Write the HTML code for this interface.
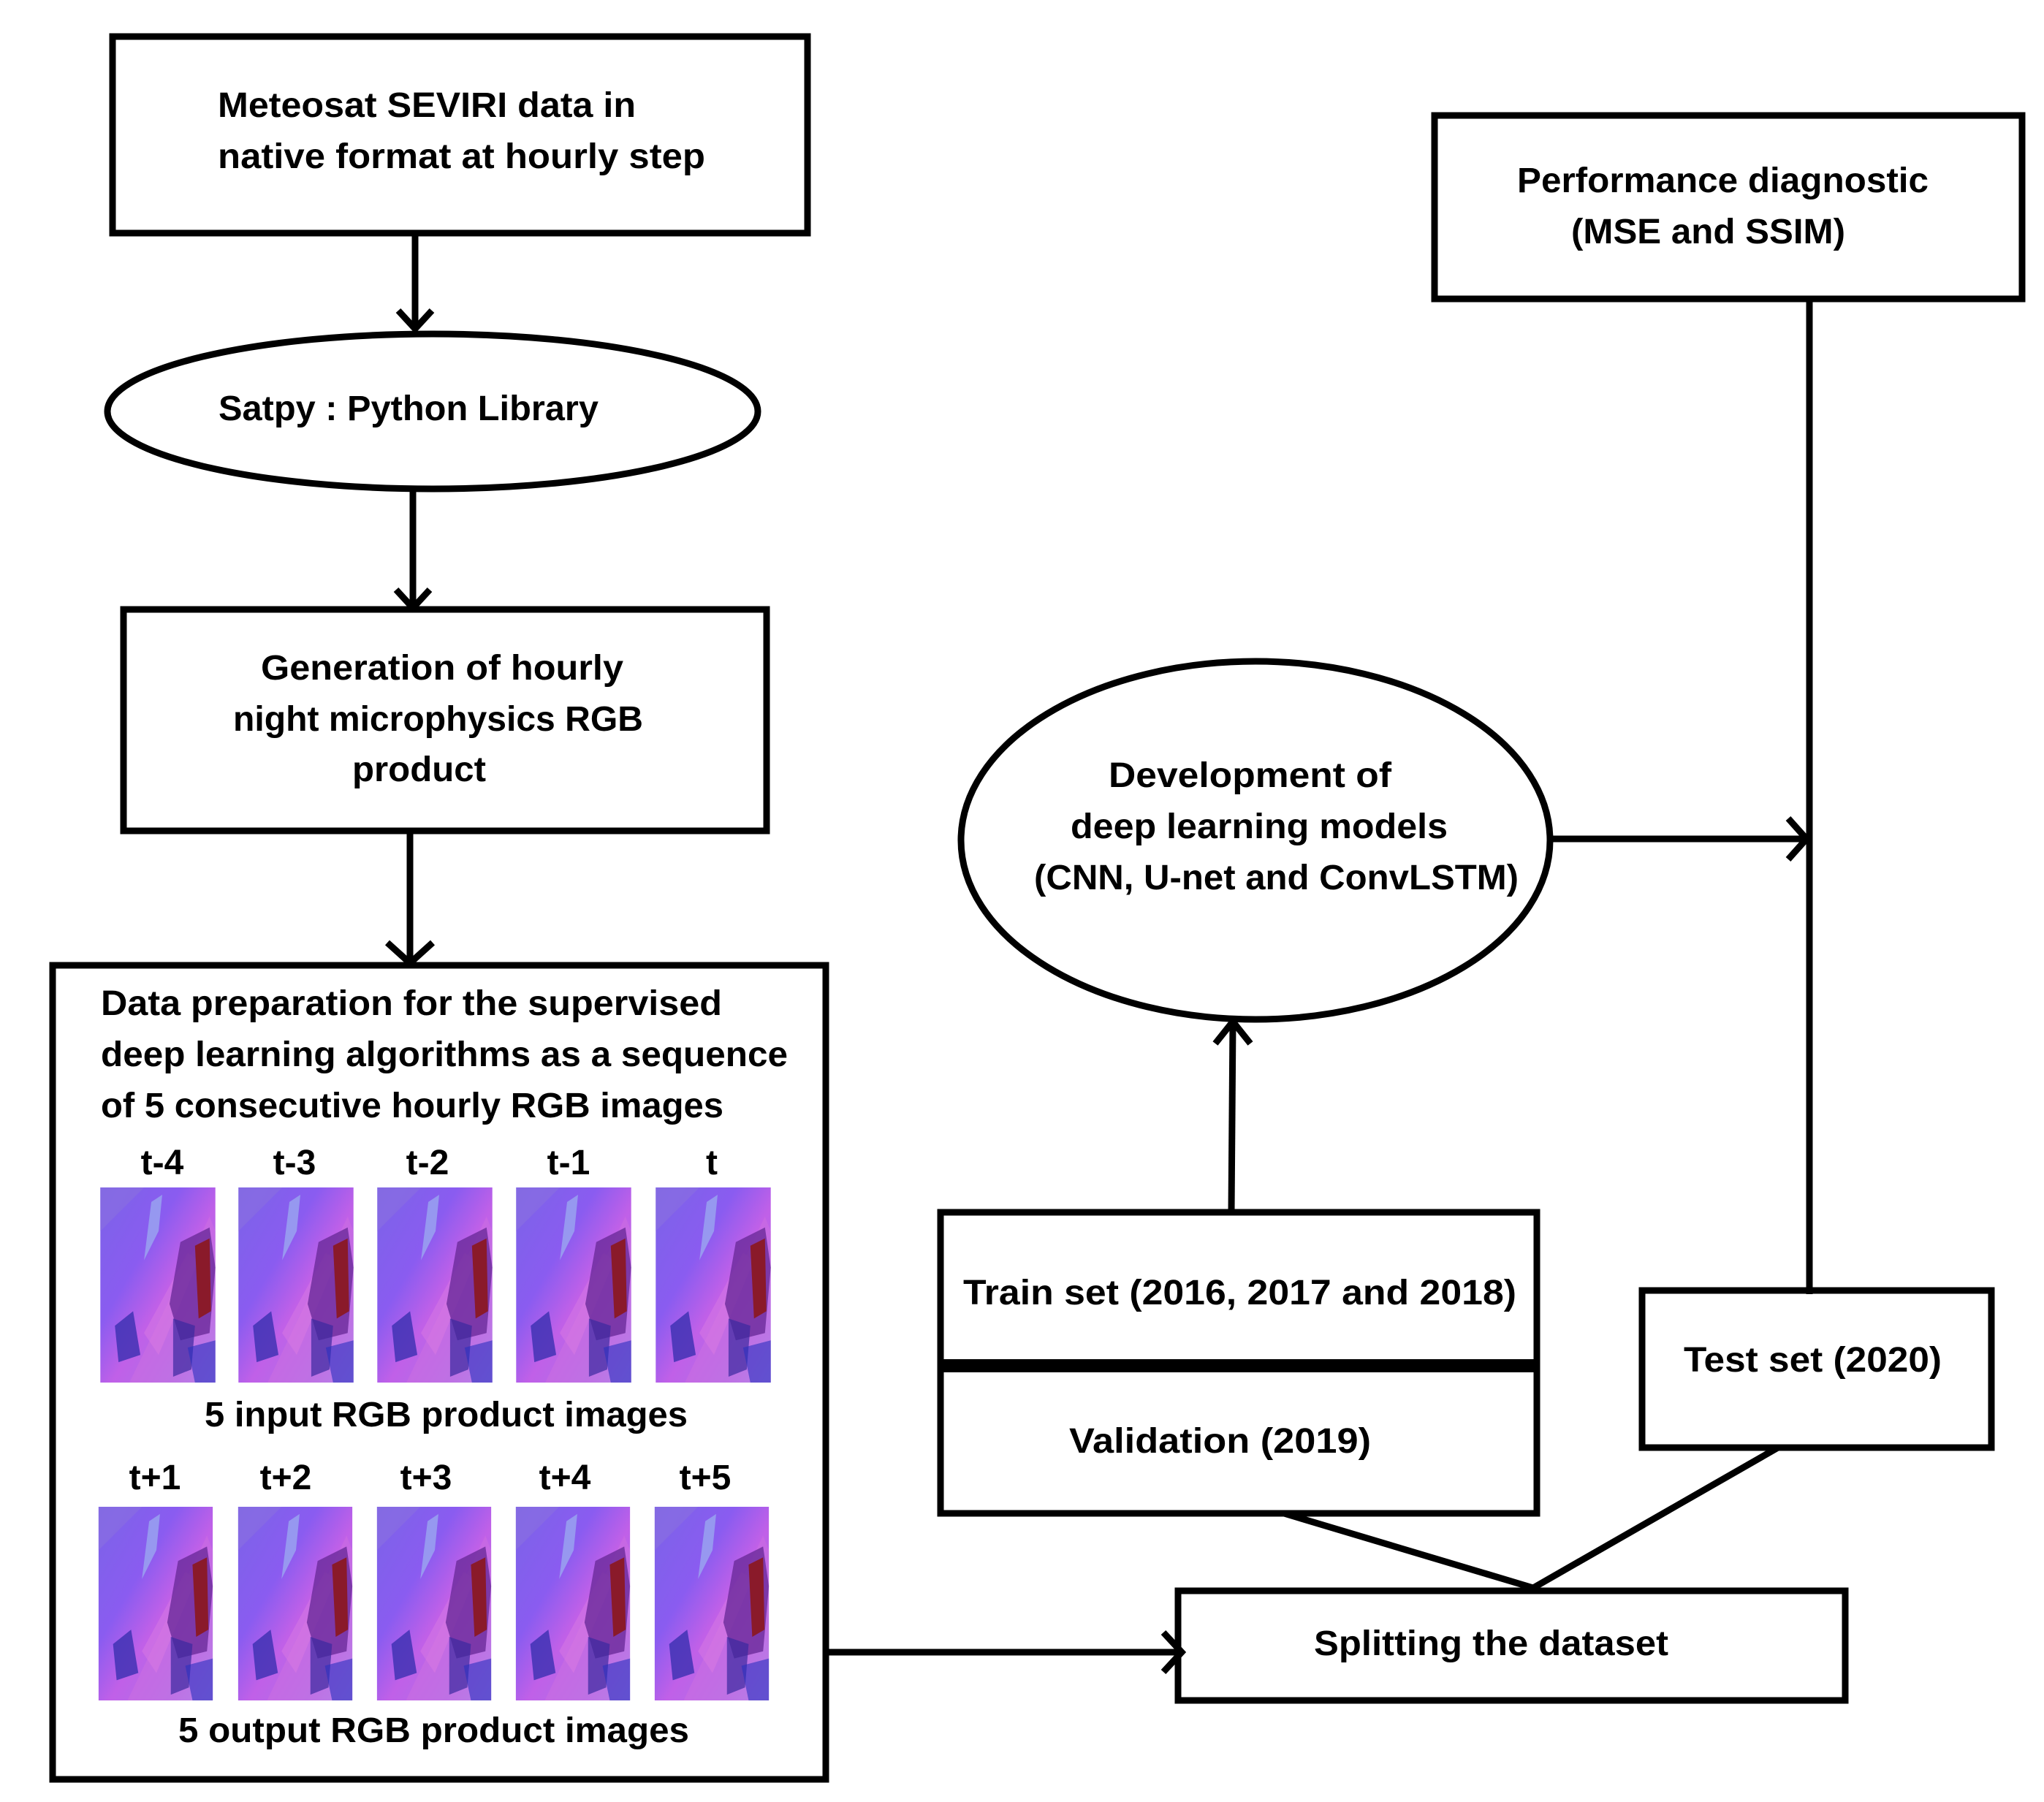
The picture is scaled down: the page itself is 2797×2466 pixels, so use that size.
<!DOCTYPE html>
<html><head><meta charset="utf-8"><style>
html,body{margin:0;padding:0;background:#fff;}
svg{display:block;}
text{font-family:"Liberation Sans",sans-serif;font-weight:bold;fill:#000;}
</style></head><body>
<svg width="2797" height="2466" viewBox="0 0 2797 2466" xmlns="http://www.w3.org/2000/svg">
<defs>
<linearGradient id="bg" x1="0" y1="0" x2="1" y2="1">
<stop offset="0" stop-color="#7b63e8"/><stop offset="0.35" stop-color="#8a5cf0"/><stop offset="0.55" stop-color="#c060e8"/><stop offset="0.8" stop-color="#b070e8"/><stop offset="1" stop-color="#a090f0"/>
</linearGradient>
<symbol id="sat" viewBox="0 0 158 268">
<rect width="158" height="268" fill="url(#bg)"/>
<path d="M0 0 H60 L0 60 Z" fill="#8a70e0" opacity="0.6"/>
<path d="M40 268 L150 40 L158 60 L158 268 Z" fill="#d070e0" opacity="0.45"/>
<path d="M60 200 L120 90 L135 100 L80 230 Z" fill="#e080e0" opacity="0.4"/>
<path d="M110 75 L150 55 L158 110 L150 200 L110 210 L95 160 Z" fill="#6a2a9a" opacity="0.8"/>
<path d="M130 80 L150 70 L152 170 L135 180 Z" fill="#8a1a2a"/>
<path d="M20 190 L45 170 L55 230 L25 240 Z" fill="#3a30b0" opacity="0.8"/>
<path d="M100 180 L130 190 L125 250 L100 260 Z" fill="#3a2aa0" opacity="0.7"/>
<path d="M120 220 L158 210 L158 268 L130 268 Z" fill="#2a30c0" opacity="0.6"/>
<path d="M70 20 L85 10 L80 60 L60 100 Z" fill="#a0c0f0" opacity="0.6"/>
</symbol>
</defs>
<g fill="none" stroke="#000" stroke-width="9">
<rect x="154" y="50" width="951" height="269"/>
<line x1="568" y1="319" x2="568" y2="450"/>
<polyline points="545,425 568,450 591,425"/>
<ellipse cx="592" cy="563" rx="445" ry="106"/>
<line x1="565" y1="669" x2="565" y2="832"/>
<polyline points="542,807 565,832 588,807"/>
<rect x="169" y="834" width="880" height="303"/>
<line x1="561" y1="1137" x2="561" y2="1318"/>
<polyline points="530,1290 561,1318 592,1290"/>
<rect x="72" y="1321" width="1058" height="1114"/>
<line x1="1130" y1="2261" x2="1617" y2="2261"/>
<polyline points="1592,2234 1617,2261 1592,2288"/>
<rect x="1612" y="2177" width="913" height="150"/>
<rect x="1287" y="1659" width="816" height="412"/>
<line x1="1287" y1="1869" x2="2103" y2="1869" stroke-width="18"/>
<rect x="2247" y="1766" width="478" height="215"/>
<line x1="1757" y1="2071" x2="2098" y2="2173"/>
<line x1="2433" y1="1981" x2="2098" y2="2173"/>
<line x1="1685" y1="1659" x2="1687" y2="1398"/>
<polyline points="1663,1428 1687,1398 1711,1428"/>
<ellipse cx="1718" cy="1150" rx="403" ry="245"/>
<line x1="2121" y1="1148" x2="2472" y2="1148"/>
<polyline points="2447,1120 2472,1148 2447,1176"/>
<line x1="2476" y1="409" x2="2476" y2="1771"/>
<rect x="1963" y="158" width="804" height="251"/>
</g>
<g font-size="48">
<text x="298" y="160" textLength="572" lengthAdjust="spacingAndGlyphs">Meteosat SEVIRI data in</text>
<text x="298" y="230" textLength="667" lengthAdjust="spacingAndGlyphs">native format at hourly step</text>
<text x="299" y="575" textLength="520" lengthAdjust="spacingAndGlyphs">Satpy : Python Library</text>
<text x="357" y="930" textLength="496" lengthAdjust="spacingAndGlyphs">Generation of hourly</text>
<text x="319" y="1000" textLength="561" lengthAdjust="spacingAndGlyphs">night microphysics RGB</text>
<text x="482" y="1069" textLength="183" lengthAdjust="spacingAndGlyphs">product</text>
<text x="138" y="1389" textLength="850" lengthAdjust="spacingAndGlyphs">Data preparation for the supervised</text>
<text x="138" y="1459" textLength="940" lengthAdjust="spacingAndGlyphs">deep learning algorithms as a sequence</text>
<text x="138" y="1529" textLength="852" lengthAdjust="spacingAndGlyphs">of 5 consecutive hourly RGB images</text>
<g text-anchor="middle">
<text x="222" y="1607">t-4</text><text x="403" y="1607">t-3</text><text x="585" y="1607">t-2</text><text x="778" y="1607">t-1</text><text x="974" y="1607">t</text>
<text x="212" y="2038">t+1</text><text x="391" y="2038">t+2</text><text x="583" y="2038">t+3</text><text x="773" y="2038">t+4</text><text x="965" y="2038">t+5</text>
</g>
<text x="280" y="1952" textLength="661" lengthAdjust="spacingAndGlyphs">5 input RGB product images</text>
<text x="244" y="2384" textLength="699" lengthAdjust="spacingAndGlyphs">5 output RGB product images</text>
<text x="2076" y="263" textLength="563" lengthAdjust="spacingAndGlyphs">Performance diagnostic</text>
<text x="2150" y="333" textLength="375" lengthAdjust="spacingAndGlyphs">(MSE and SSIM)</text>
<text x="1517" y="1077" textLength="387" lengthAdjust="spacingAndGlyphs">Development of</text>
<text x="1465" y="1147" textLength="516" lengthAdjust="spacingAndGlyphs">deep learning models</text>
<text x="1415" y="1217" textLength="663" lengthAdjust="spacingAndGlyphs">(CNN, U-net and ConvLSTM)</text>
<text x="1318" y="1785" textLength="757" lengthAdjust="spacingAndGlyphs">Train set (2016, 2017 and 2018)</text>
<text x="1463" y="1988" textLength="413" lengthAdjust="spacingAndGlyphs">Validation (2019)</text>
<text x="2304" y="1877" textLength="353" lengthAdjust="spacingAndGlyphs">Test set (2020)</text>
<text x="1798" y="2265" textLength="485" lengthAdjust="spacingAndGlyphs">Splitting the dataset</text>
</g>
<use href="#sat" x="137" y="1625" width="158" height="267"/>
<use href="#sat" x="326" y="1625" width="158" height="267"/>
<use href="#sat" x="516" y="1625" width="158" height="267"/>
<use href="#sat" x="706" y="1625" width="158" height="267"/>
<use href="#sat" x="897" y="1625" width="158" height="267"/>
<use href="#sat" x="134" y="2062" width="158" height="265"/>
<use href="#sat" x="325" y="2062" width="158" height="265"/>
<use href="#sat" x="515" y="2062" width="158" height="265"/>
<use href="#sat" x="705" y="2062" width="158" height="265"/>
<use href="#sat" x="895" y="2062" width="158" height="265"/>
</svg>
</body></html>
